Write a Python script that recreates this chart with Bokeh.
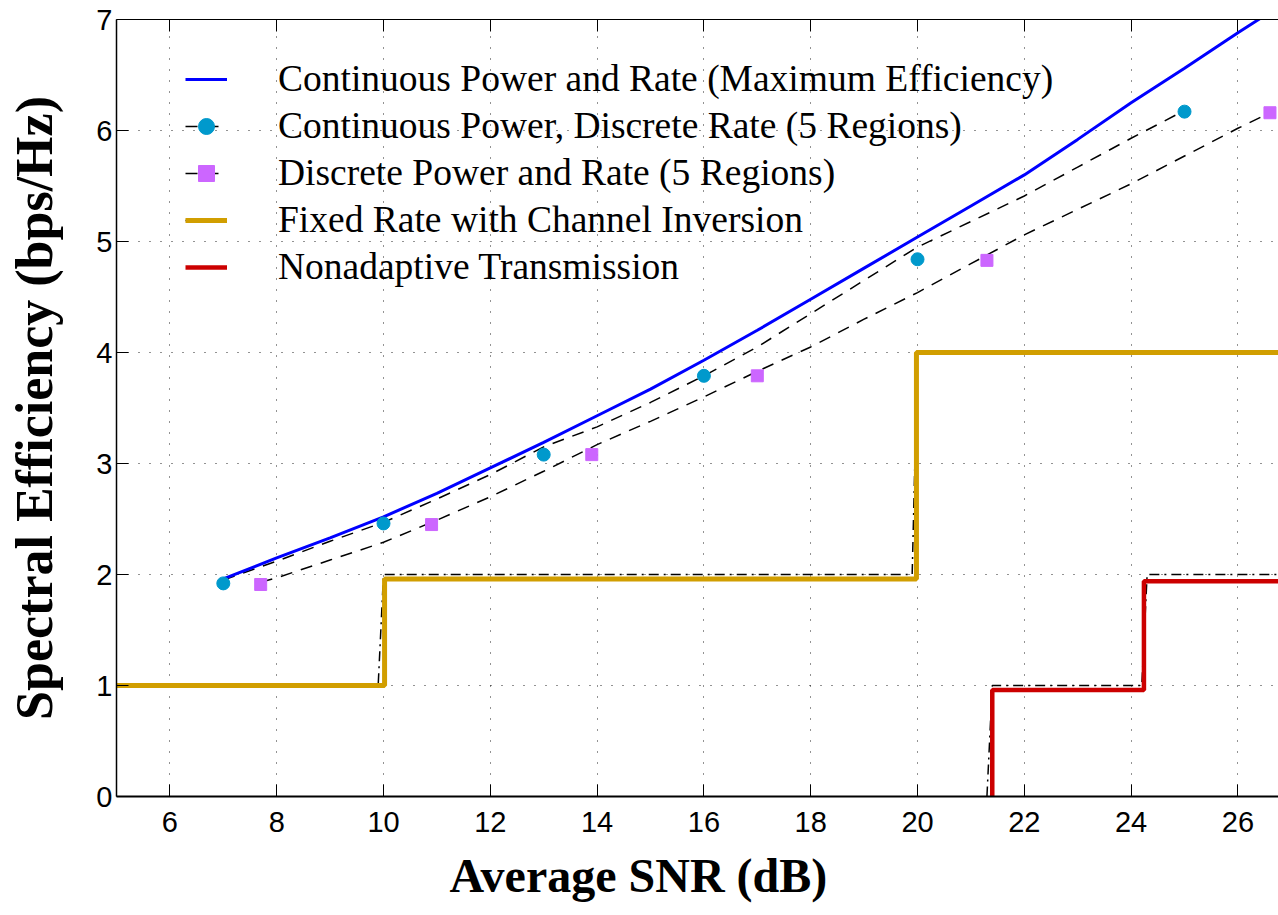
from bokeh.plotting import figure
from bokeh.models import (Range1d, FixedTicker, LinearAxis, Legend, LegendItem, Title,
                          CustomLabelingPolicy)
from bokeh.embed import file_html
from bokeh.resources import INLINE

# ---- data ----
x_ticks = [6, 8, 10, 12, 14, 16, 18, 20, 22, 24, 26]
y_ticks = [0, 1, 2, 3, 4, 5, 6, 7]

# Continuous power and rate (maximum efficiency)
snr_max = [7, 8, 9, 10, 11, 12, 13, 14, 15, 16, 17, 18, 19, 20, 21, 22, 23, 24, 25, 26, 27]
se_max = [1.96, 2.15, 2.33, 2.52, 2.73, 2.96, 3.19, 3.43, 3.67, 3.93, 4.20, 4.48, 4.76,
          5.04, 5.32, 5.60, 5.92, 6.25, 6.56, 6.88, 7.19]

# Continuous power, discrete rate: curve and markers
snr_cpdr_curve = [7, 8, 9, 10, 11, 12, 13, 14, 15, 16, 17, 18, 19, 20, 21, 22, 23, 24, 25]
se_cpdr_curve = [1.95, 2.12, 2.30, 2.47, 2.68, 2.90, 3.15, 3.33, 3.55, 3.79, 4.05, 4.35,
                 4.65, 4.95, 5.18, 5.41, 5.67, 5.93, 6.18]
snr_cpdr_pts = [7.0, 10.0, 13.0, 16.0, 20.0, 25.0]
se_cpdr_pts = [1.92, 2.46, 3.08, 3.79, 4.84, 6.17]

# Discrete power and rate: curve and markers
snr_dpdr_curve = [7.7, 8, 9, 10, 11, 12, 13, 14, 15, 16, 17, 18, 19, 20, 21, 22, 23, 24,
                  25, 26, 26.6]
se_dpdr_curve = [1.93, 1.97, 2.13, 2.29, 2.49, 2.70, 2.93, 3.17, 3.38, 3.60, 3.83, 4.05,
                 4.30, 4.54, 4.80, 5.06, 5.29, 5.52, 5.77, 6.02, 6.16]
snr_dpdr_pts = [7.7, 10.9, 13.9, 17.0, 21.3, 26.6]
se_dpdr_pts = [1.91, 2.45, 3.08, 3.79, 4.83, 6.16]

# Fixed rate with channel inversion (plotted staircase and ideal staircase)
snr_fixed = [5, 10.02, 10.02, 19.98, 19.98, 27]
se_fixed = [1.0, 1.0, 1.96, 1.96, 4.0, 4.0]
snr_fixed_ideal = [5, 9.9, 10.0, 19.9, 20.0, 27]
se_fixed_ideal = [1.0, 1.0, 2.0, 2.0, 4.0, 4.0]

# Nonadaptive transmission
snr_nonad = [21.4, 21.4, 24.24, 24.24, 27]
se_nonad = [0.0, 0.96, 0.96, 1.94, 1.94]
snr_nonad_ideal = [21.3, 21.4, 24.2, 24.3, 27]
se_nonad_ideal = [0.0, 1.0, 1.0, 2.0, 2.0]

labels = [
    "Continuous Power and Rate (Maximum Efficiency)",
    "Continuous Power, Discrete Rate (5 Regions)",
    "Discrete Power and Rate (5 Regions)",
    "Fixed Rate with Channel Inversion",
    "Nonadaptive Transmission",
]
x_title = "Average SNR (dB)"
y_title = "Spectral Efficiency (bps/Hz)"

# ---- figure ----
p = figure(width=1278, height=915, output_backend="svg", toolbar_location=None,
           x_range=Range1d(5, 26.76), y_range=Range1d(0, 7),
           min_border_left=116, min_border_right=0, min_border_top=19,
           min_border_bottom=119)
p.outline_line_color = None
p.background_fill_color = "white"
p.border_fill_color = "white"

tick_font = "Liberation Sans"
for ax in (p.xaxis[0], p.yaxis[0]):
    ax.major_tick_in = 12
    ax.major_tick_out = 0
    ax.minor_tick_in = 0
    ax.minor_tick_out = 0
    ax.axis_line_color = "black"
    ax.major_tick_line_color = "black"
    ax.major_label_text_font = tick_font
    ax.major_label_text_font_size = "29px"
    ax.major_label_text_color = "black"
    ax.axis_label_text_font = "Liberation Serif"
    ax.axis_label_text_font_style = "bold"
    ax.axis_label_text_color = "black"

p.xaxis.ticker = FixedTicker(ticks=x_ticks)
p.yaxis.ticker = FixedTicker(ticks=y_ticks)
p.xaxis.axis_line_width = 2
p.yaxis.axis_line_width = 1.5
p.yaxis.axis_label = y_title
p.yaxis.axis_label_text_font_size = "52px"
p.xaxis.major_label_standoff = 15
p.yaxis.major_label_standoff = 4
p.yaxis.axis_label_standoff = 30

top_axis = LinearAxis(ticker=FixedTicker(ticks=x_ticks), major_tick_in=12, major_tick_out=0,
                      minor_tick_in=0, minor_tick_out=0,
                      major_label_policy=CustomLabelingPolicy(
                          code="for (let i = 0; i < indices.size; i++) { indices.unset(i) }\nreturn indices"),
                      major_label_standoff=0, axis_line_width=1, axis_line_color="black")
p.add_layout(top_axis, "above")

p.xgrid.ticker = FixedTicker(ticks=x_ticks)
p.ygrid.ticker = FixedTicker(ticks=y_ticks)
p.grid.grid_line_color = "black"
p.grid.grid_line_alpha = 0.85
p.grid.grid_line_dash = "1 10"
p.grid.grid_line_width = 1

# x-axis title, placed where the reference places it (left of the frame centre)
p.add_layout(Title(text=x_title, align="left", offset=333, standoff=25,
                   text_font="Liberation Serif", text_font_style="bold",
                   text_font_size="48px", text_color="black"), "below")

# ---- glyphs ----
r_fix_black = p.line(snr_fixed_ideal, se_fixed_ideal, line_color="black", line_width=1.5,
                     line_dash="10 5 2 5")
r_non_black = p.line(snr_nonad_ideal, se_nonad_ideal, line_color="black", line_width=1.5,
                     line_dash="10 5 2 5")
r_cpdr_line = p.line(snr_cpdr_curve, se_cpdr_curve, line_color="black", line_width=1.5,
                     line_dash="12 9")
r_dpdr_line = p.line(snr_dpdr_curve, se_dpdr_curve, line_color="black", line_width=1.5,
                     line_dash="12 9")
r_max = p.line(snr_max, se_max, line_color="#0000FF", line_width=3)
r_fix = p.line(snr_fixed, se_fixed, line_color="#D19E00", line_width=5)
r_non = p.line(snr_nonad, se_nonad, line_color="#CC0000", line_width=4.5)
r_cpdr_pts = p.scatter(snr_cpdr_pts, se_cpdr_pts, marker="circle", size=13,
                       fill_color="#0099CC", line_color="#0099CC")
r_dpdr_pts = p.scatter(snr_dpdr_pts, se_dpdr_pts, marker="square", size=12,
                       fill_color="#CC66FF", line_color="#CC66FF")

legend = Legend(items=[
    LegendItem(label=labels[0], renderers=[r_max]),
    LegendItem(label=labels[1], renderers=[r_cpdr_line, r_cpdr_pts]),
    LegendItem(label=labels[2], renderers=[r_dpdr_line, r_dpdr_pts]),
    LegendItem(label=labels[3], renderers=[r_fix_black, r_fix]),
    LegendItem(label=labels[4], renderers=[r_non]),
], location=(59, 498), padding=10, margin=0, spacing=4, glyph_width=42, glyph_height=40,
    label_height=40, label_standoff=51, label_text_font="Liberation Serif",
    label_text_font_size="37.5px", label_text_color="black",
    background_fill_alpha=0, border_line_alpha=0)
p.add_layout(legend)

open("out.html", "w").write(file_html(p, INLINE))
